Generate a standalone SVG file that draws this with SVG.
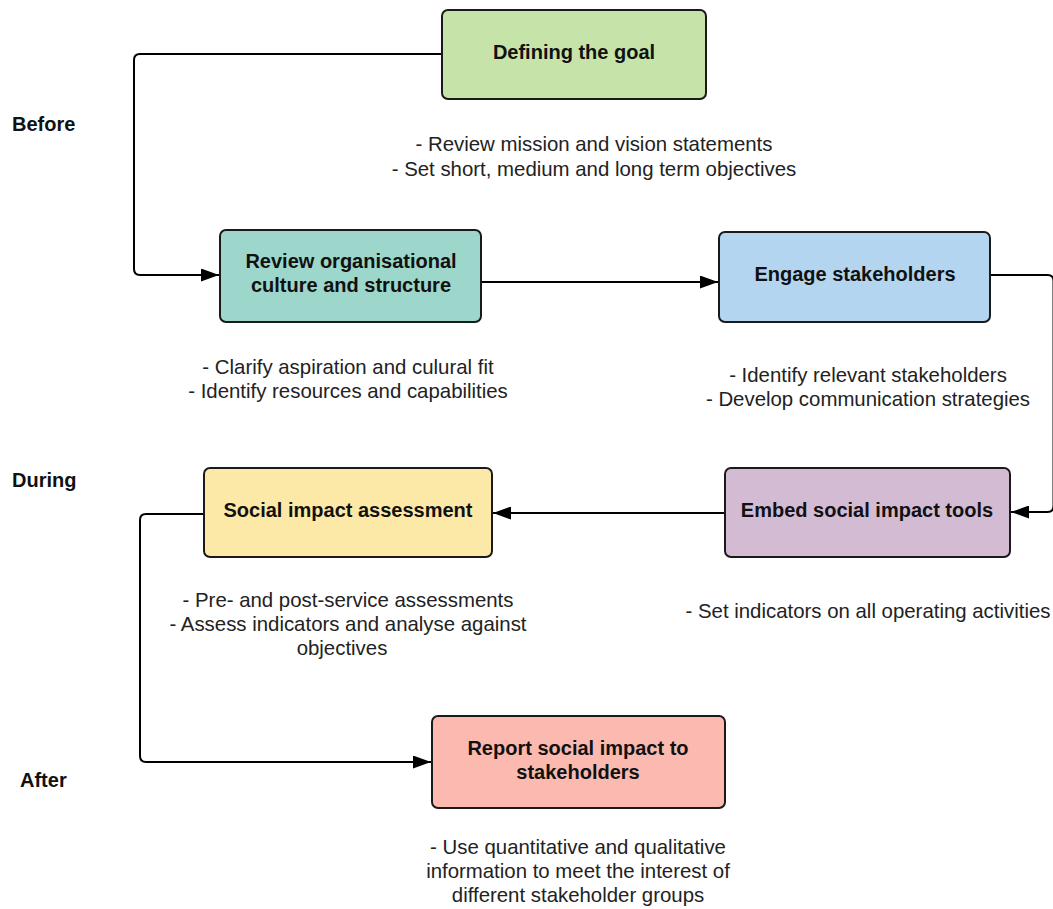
<svg xmlns="http://www.w3.org/2000/svg" width="1053" height="909" viewBox="0 0 1053 909">
  <defs>
    <marker id="arrow" viewBox="0 0 18 13" refX="18" refY="6.5" markerWidth="18" markerHeight="13" markerUnits="userSpaceOnUse" orient="auto">
      <path d="M0,0 L18,6.5 L0,13 Z" fill="#000"/>
    </marker>
    <style>
      .box { stroke: #1a1a1a; stroke-width: 2; }
      .title { font-family: "Liberation Sans", Arial, sans-serif; font-weight: bold; font-size: 20px; fill: #111; text-anchor: middle; }
      .note { font-family: "Liberation Sans", Arial, sans-serif; font-size: 20.4px; fill: #222; text-anchor: middle; }
      .phase { font-family: "Liberation Sans", Arial, sans-serif; font-weight: bold; font-size: 20px; fill: #111; }
      .conn { fill: none; stroke: #000; stroke-width: 2; marker-end: url(#arrow); }
    </style>
  </defs>
  <rect width="1053" height="909" fill="#fff"/>

  <!-- phase labels -->
  <text class="phase" x="12" y="131">Before</text>
  <text class="phase" x="12" y="487">During</text>
  <text class="phase" x="20" y="787">After</text>

  <!-- connectors -->
  <g id="connectors">
    <path class="conn" d="M442,54 H140 Q134,54 134,60 V269 Q134,275 140,275 H219"/>
    <path class="conn" d="M481,282 H718"/>
    <path class="conn" d="M990,275 H1047.5 Q1053.5,275 1053.5,281 V506 Q1053.5,512 1047.5,512 H1011"/>
    <path class="conn" d="M725,513 H493"/>
    <path class="conn" d="M204,514 H146 Q140,514 140,520 V756 Q140,762 146,762 H431"/>
  </g>

  <g id="node-goal">
    <rect class="box" x="442" y="10" width="264" height="89" rx="6" fill="#c6e4aa"/>
    <text class="title" x="574" y="59">Defining the goal</text>
    <text class="note" x="594" y="151">- Review mission and vision statements</text>
    <text class="note" x="594" y="176">- Set short, medium and long term objectives</text>
  </g>

  <g id="node-review">
    <rect class="box" x="220" y="230" width="261" height="92" rx="6" fill="#9dd6ca"/>
    <text class="title" x="351" y="268">Review organisational</text>
    <text class="title" x="351" y="292">culture and structure</text>
    <text class="note" x="348" y="374">- Clarify aspiration and culural fit</text>
    <text class="note" x="348" y="398">- Identify resources and capabilities</text>
  </g>

  <g id="node-engage">
    <rect class="box" x="719" y="232" width="271" height="90" rx="6" fill="#b4d5ef"/>
    <text class="title" x="855" y="281">Engage stakeholders</text>
    <text class="note" x="868" y="382">- Identify relevant stakeholders</text>
    <text class="note" x="868" y="406">- Develop communication strategies</text>
  </g>

  <g id="node-embed">
    <rect class="box" x="725" y="468" width="285" height="89" rx="6" fill="#d3bbd4"/>
    <text class="title" x="867" y="517">Embed social impact tools</text>
    <text class="note" x="868" y="618">- Set indicators on all operating activities</text>
  </g>

  <g id="node-assessment">
    <rect class="box" x="204" y="468" width="288" height="89" rx="6" fill="#fde9a7"/>
    <text class="title" x="348" y="517">Social impact assessment</text>
    <text class="note" x="348" y="607">- Pre- and post-service assessments</text>
    <text class="note" x="348" y="631">- Assess indicators and analyse against</text>
    <text class="note" x="342" y="655">objectives</text>
  </g>

  <g id="node-report">
    <rect class="box" x="432" y="716" width="293" height="92" rx="6" fill="#fbb9b0"/>
    <text class="title" x="578" y="755">Report social impact to</text>
    <text class="title" x="578" y="779">stakeholders</text>
    <text class="note" x="578" y="854">- Use quantitative and qualitative</text>
    <text class="note" x="578" y="878">information to meet the interest of</text>
    <text class="note" x="578" y="902">different stakeholder groups</text>
  </g>
</svg>
